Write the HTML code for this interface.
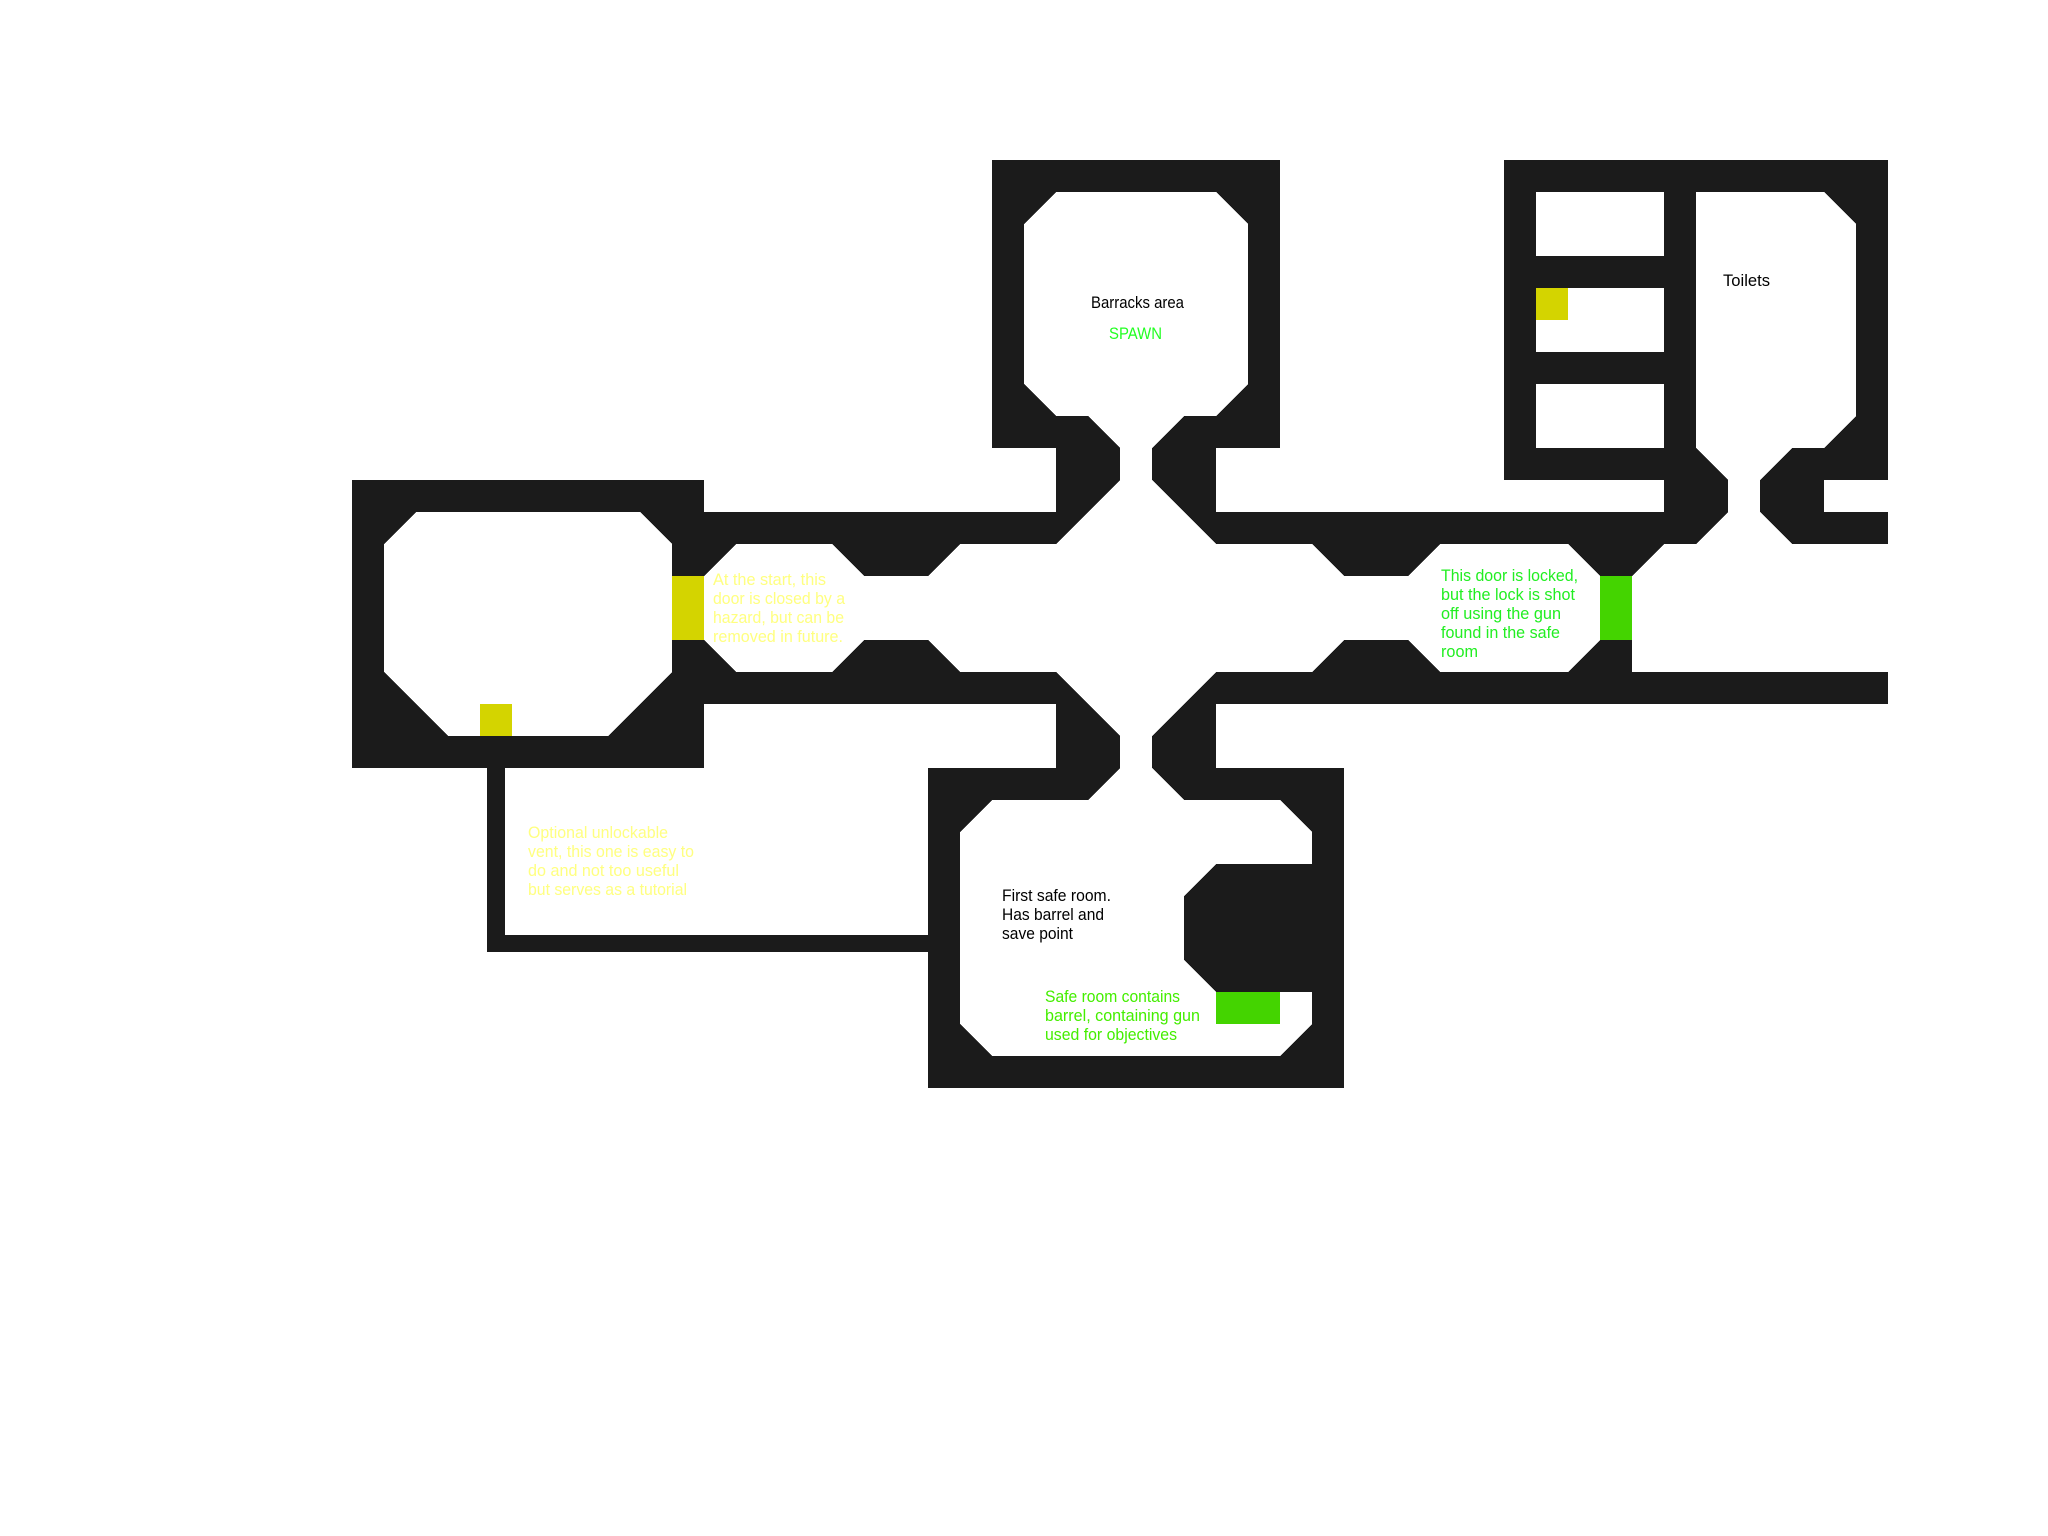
<!DOCTYPE html>
<html><head><meta charset="utf-8"><style>
html,body{margin:0;padding:0;background:#fff;}
svg{display:block;}
text{font-family:"Liberation Sans",sans-serif;font-size:17px;}
</style></head><body>
<svg width="2048" height="1536" viewBox="0 0 2048 1536" xmlns="http://www.w3.org/2000/svg">
<rect width="2048" height="1536" fill="#fff"/>
<g transform="scale(32)" shape-rendering="crispEdges">
<g fill="#1b1b1b">
<rect x="31" y="5" width="9" height="9"/>
<rect x="33" y="14" width="5" height="11"/>
<rect x="22" y="16" width="11" height="6"/>
<rect x="11" y="15" width="11" height="9"/>
<rect x="29" y="24" width="13" height="10"/>
<rect x="38" y="16" width="15" height="1"/>
<rect x="38" y="17" width="13" height="5"/>
<rect x="51" y="21" width="8" height="1"/>
<polygon points="51,17 52,17 51,18"/>
<rect x="47" y="5" width="12" height="10"/>
<rect x="52" y="14" width="5" height="3"/>
<rect x="57" y="16" width="2" height="1"/>
</g>
<g fill="#fff">
<polygon points="33,6 38,6 39,7 39,12 38,13 37,13 36,14 36,15 35,15 35,14 34,13 33,13 32,12 32,7"/>
<polygon points="35,15 36,15 38,17 41,17 42,18 44,18 45,17 49,17 50,18 50,20 49,21 45,21 44,20 42,20 41,21 38,21 36,23 36,24 37,25 40,25 41,26 41,27 38,27 37,28 37,30 38,31 41,31 41,32 40,33 31,33 30,32 30,26 31,25 34,25 35,24 35,23 33,21 30,21 29,20 27,20 26,21 23,21 22,20 22,18 23,17 26,17 27,18 29,18 30,17 33,17"/>
<polygon points="13,16 20,16 21,17 21,21 19,23 14,23 12,21 12,17"/>
<rect x="48" y="6" width="4" height="2"/>
<rect x="48" y="9" width="4" height="2"/>
<rect x="48" y="12" width="4" height="2"/>
<polygon points="53,6 57,6 58,7 58,13 57,14 56,14 55,15 55,16 56,17 53,17 54,16 54,15 53,14"/>
<rect x="57" y="15" width="2" height="1"/>
</g>
<rect x="21" y="18" width="1" height="2" fill="#d4d400"/>
<rect x="15" y="22" width="1" height="1" fill="#d4d400"/>
<rect x="48" y="9" width="1" height="1" fill="#d4d400"/>
<rect x="50" y="18" width="1" height="2" fill="#44d400"/>
<rect x="38" y="31" width="2" height="1" fill="#44d400"/>
</g>
<g fill="#1b1b1b" shape-rendering="crispEdges">
<rect x="487" y="768" width="18" height="184"/>
<rect x="487" y="935" width="441" height="17"/>
</g>
<text x="1091" y="308" fill="#000" textLength="93" lengthAdjust="spacingAndGlyphs">Barracks area</text>
<text x="1109" y="339" fill="#22ff22" textLength="53" lengthAdjust="spacingAndGlyphs">SPAWN</text>
<text x="1723" y="286" fill="#000" textLength="47" lengthAdjust="spacingAndGlyphs">Toilets</text>
<g fill="#ffff80">
<text x="713" y="585" textLength="113" lengthAdjust="spacingAndGlyphs">At the start, this</text>
<text x="713" y="604" textLength="132" lengthAdjust="spacingAndGlyphs">door is closed by a</text>
<text x="713" y="623" textLength="131" lengthAdjust="spacingAndGlyphs">hazard, but can be</text>
<text x="713" y="642" textLength="130" lengthAdjust="spacingAndGlyphs">removed in future.</text>
<text x="528" y="838" textLength="140" lengthAdjust="spacingAndGlyphs">Optional unlockable</text>
<text x="528" y="857" textLength="166" lengthAdjust="spacingAndGlyphs">vent, this one is easy to</text>
<text x="528" y="876" textLength="151" lengthAdjust="spacingAndGlyphs">do and not too useful</text>
<text x="528" y="895" textLength="159" lengthAdjust="spacingAndGlyphs">but serves as a tutorial</text>
</g>
<g fill="#22ee22">
<text x="1441" y="581" textLength="137" lengthAdjust="spacingAndGlyphs">This door is locked,</text>
<text x="1441" y="600" textLength="134" lengthAdjust="spacingAndGlyphs">but the lock is shot</text>
<text x="1441" y="619" textLength="120" lengthAdjust="spacingAndGlyphs">off using the gun</text>
<text x="1441" y="638" textLength="119" lengthAdjust="spacingAndGlyphs">found in the safe</text>
<text x="1441" y="657" textLength="37" lengthAdjust="spacingAndGlyphs">room</text>
</g>
<g fill="#000">
<text x="1002" y="901" textLength="109" lengthAdjust="spacingAndGlyphs">First safe room.</text>
<text x="1002" y="920" textLength="102" lengthAdjust="spacingAndGlyphs">Has barrel and</text>
<text x="1002" y="939" textLength="71" lengthAdjust="spacingAndGlyphs">save point</text>
</g>
<g fill="#44ee00">
<text x="1045" y="1002" textLength="135" lengthAdjust="spacingAndGlyphs">Safe room contains</text>
<text x="1045" y="1021" textLength="155" lengthAdjust="spacingAndGlyphs">barrel, containing gun</text>
<text x="1045" y="1040" textLength="132" lengthAdjust="spacingAndGlyphs">used for objectives</text>
</g>
</svg>
</body></html>
